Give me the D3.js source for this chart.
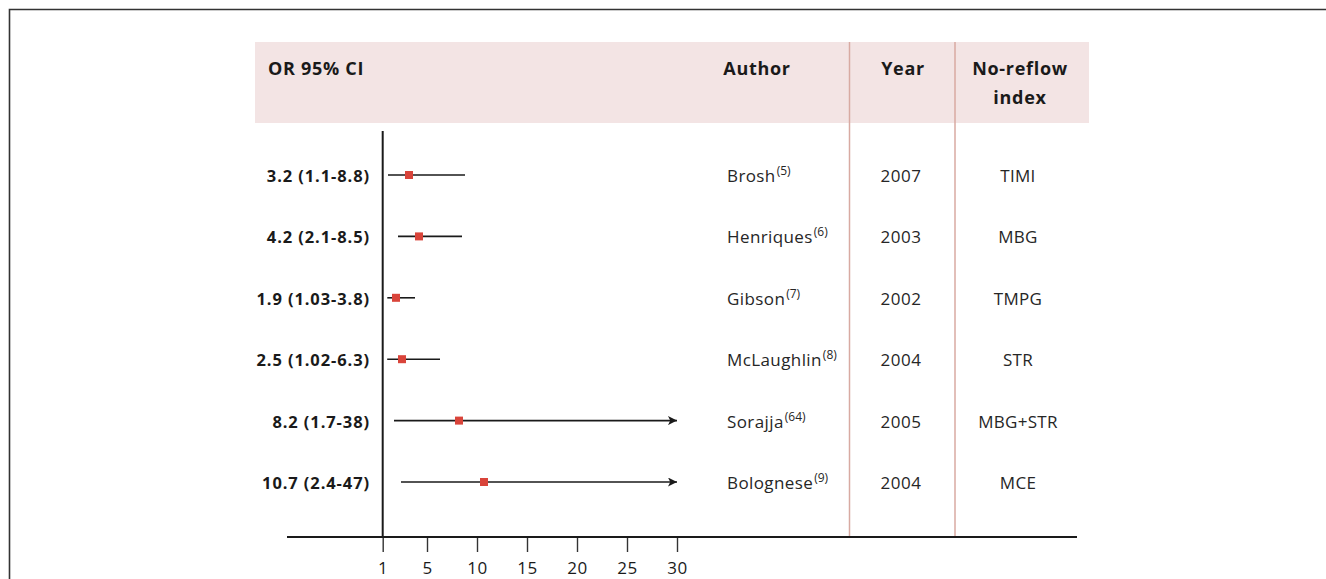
<!DOCTYPE html>
<html>
<head>
<meta charset="utf-8">
<script src="https://cdn.jsdelivr.net/npm/d3@7/dist/d3.min.js"></script>
<style>
  html, body { margin: 0; padding: 0; background: #fff; }
  svg { display: block; font-family: "Open Sans", "Noto Sans", sans-serif; }
</style>
</head>
<body>
<svg id="chart" width="1326" height="579"></svg>
<script>
// study rows, top to bottom
var authors = ['Brosh', 'Henriques', 'Gibson', 'McLaughlin', 'Sorajja', 'Bolognese'];
var refs = ['5', '6', '7', '8', '64', '9'];
var years = ['2007', '2003', '2002', '2004', '2005', '2004'];
var indexes = ['TIMI', 'MBG', 'TMPG', 'STR', 'MBG+STR', 'MCE'];
var or_values = [3.2, 4.2, 1.9, 2.5, 8.2, 10.7];
var ci_low = [1.1, 2.1, 1.03, 1.02, 1.7, 2.4];
var ci_high = [8.8, 8.5, 3.8, 6.3, 38, 47];
var or_labels = ['3.2 (1.1-8.8)', '4.2 (2.1-8.5)', '1.9 (1.03-3.8)',
                 '2.5 (1.02-6.3)', '8.2 (1.7-38)', '10.7 (2.4-47)'];
var tick_values = [1, 5, 10, 15, 20, 25, 30];
var headers = ['OR 95% CI', 'Author', 'Year', ['No-reflow', 'index']];

var svg = d3.select('#chart');
var pink_line = '#d8aaa2', header_fill = '#f3e4e4', ink = '#1a1a1a', red = '#d9443a';

var x = d3.scaleLinear().domain([0, 30]).range([377, 677]);
var cap = 30;             // intervals beyond this end in an arrow
var axis_origin = 0.57;   // the y axis sits just left of x(1)
// the axis puts "1" on the vertical line, the rest on the data scale
var x_axis = d3.scaleLinear().domain([1, 5, 30])
    .range([x(axis_origin), x(5), x(30)]);

var y = d3.scalePoint().domain(d3.range(authors.length))
    .range([175, 482]);

// outer frame
svg.append('path')
    .attr('d', 'M9.5,579 V9.5 H1326')
    .attr('fill', 'none').attr('stroke', '#333').attr('stroke-width', 1.6);

// header band
svg.append('rect')
    .attr('x', 255).attr('y', 42).attr('width', 834).attr('height', 81)
    .attr('fill', header_fill);

// column separators
[849.5, 955].forEach(function (cx) {
    svg.append('line')
        .attr('x1', cx).attr('x2', cx).attr('y1', 42).attr('y2', 537)
        .attr('stroke', pink_line).attr('stroke-width', 1.5);
});

// header text
var head = svg.append('g').attr('font-weight', 700).attr('font-size', 18)
    .attr('letter-spacing', 0.7).attr('fill', ink);
head.append('text').attr('x', 268).attr('y', 75).text(headers[0]);
head.append('text').attr('x', 757).attr('y', 75).attr('text-anchor', 'middle').text(headers[1]);
head.append('text').attr('x', 903).attr('y', 75).attr('text-anchor', 'middle').text(headers[2]);
head.append('text').attr('x', 1020).attr('y', 75).attr('text-anchor', 'middle').text(headers[3][0]);
head.append('text').attr('x', 1020).attr('y', 104).attr('text-anchor', 'middle').text(headers[3][1]);

// arrow marker
svg.append('defs').append('marker')
    .attr('id', 'arrow').attr('viewBox', '0 0 10 10')
    .attr('refX', 10).attr('refY', 5)
    .attr('markerWidth', 13).attr('markerHeight', 9)
    .attr('markerUnits', 'userSpaceOnUse')
    .attr('orient', 'auto')
  .append('path').attr('d', 'M0,0 L10,5 L0,10 L2.5,5 Z').attr('fill', ink);

// axes
svg.append('line')
    .attr('x1', x(axis_origin)).attr('x2', x(axis_origin))
    .attr('y1', 131).attr('y2', 537)
    .attr('stroke', ink).attr('stroke-width', 2);

var axis = svg.append('g')
    .attr('transform', 'translate(0,537)')
    .call(d3.axisBottom(x_axis).tickValues(tick_values).tickSize(15)
          .tickPadding(10).tickFormat(d3.format('d')));
axis.select('.domain').remove();
axis.selectAll('.tick line').attr('stroke', '#333').attr('stroke-width', 1.4);
axis.selectAll('.tick text').attr('font-size', 17).attr('fill', ink)
    .attr('letter-spacing', 0.5)
    .attr('font-family', '"Open Sans", "Noto Sans", sans-serif');
svg.append('line')
    .attr('x1', 287).attr('x2', 1077).attr('y1', 537).attr('y2', 537)
    .attr('stroke', ink).attr('stroke-width', 2.2);

// rows
var rows = svg.selectAll('g.row')
    .data(d3.range(authors.length))
  .enter().append('g')
    .attr('class', 'row')
    .attr('transform', function (i) { return 'translate(0,' + y(i) + ')'; });

rows.append('line')
    .attr('x1', function (i) { return x(ci_low[i]); })
    .attr('x2', function (i) { return x(Math.min(ci_high[i], cap)); })
    .attr('stroke', ink).attr('stroke-width', 1.6)
    .attr('marker-end', function (i) { return ci_high[i] > cap ? 'url(#arrow)' : null; });

rows.append('rect')
    .attr('x', function (i) { return x(or_values[i]) - 4; })
    .attr('y', -4).attr('width', 8).attr('height', 8)
    .attr('fill', red);

rows.append('text')
    .attr('x', 370).attr('y', 7)
    .attr('text-anchor', 'end').attr('font-weight', 700).attr('font-size', 16.5)
    .attr('letter-spacing', 0.9).attr('fill', ink)
    .text(function (i) { return or_labels[i]; });

var author_text = rows.append('text')
    .attr('x', 727).attr('y', 7)
    .attr('font-size', 17).attr('letter-spacing', 0.4).attr('fill', '#262626');
author_text.append('tspan').text(function (i) { return authors[i]; });
author_text.append('tspan').attr('font-size', 12).attr('dy', -7).attr('dx', 1)
    .attr('letter-spacing', 0)
    .text(function (i) { return '(' + refs[i] + ')'; });

rows.append('text')
    .attr('x', 901).attr('y', 7).attr('text-anchor', 'middle')
    .attr('font-size', 17).attr('letter-spacing', 0.5).attr('fill', '#262626')
    .text(function (i) { return years[i]; });

rows.append('text')
    .attr('x', 1018).attr('y', 7).attr('text-anchor', 'middle')
    .attr('font-size', 17).attr('letter-spacing', 0.3).attr('fill', '#262626')
    .text(function (i) { return indexes[i]; });
</script>
</body>
</html>
